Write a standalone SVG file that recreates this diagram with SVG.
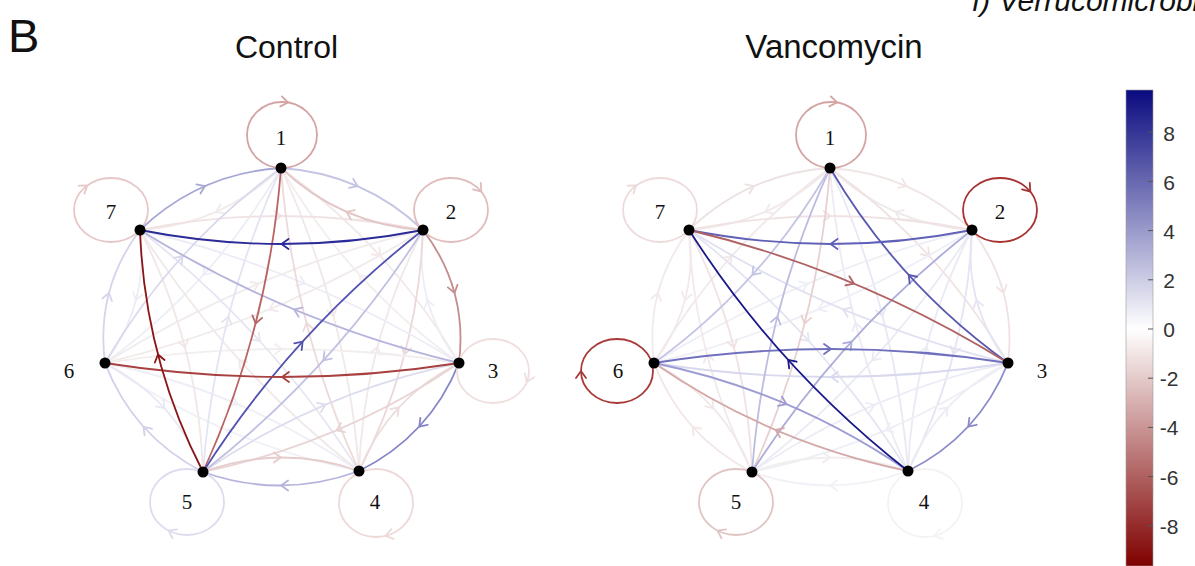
<svg xmlns="http://www.w3.org/2000/svg" xmlns:xlink="http://www.w3.org/1999/xlink" width="1195" height="566" viewBox="0 0 1195 566">
<style>
path{fill:none;stroke-width:1.8;stroke-linecap:round;stroke-linejoin:round}
.lp{fill:none;stroke-width:1.8}
.nd{fill:#000}
.lb{font-family:"Liberation Serif","Times New Roman",serif;font-size:21px;fill:#111;text-anchor:middle}
.tt{font-family:"Liberation Sans",Arial,sans-serif;fill:#111}
.tk{font-family:"Liberation Sans",Arial,sans-serif;font-size:21px;fill:#333;text-anchor:middle}
</style>
<defs>
<path id="ch" d="M-7,-5L0,0L-7,5"/>
<g id="P12"><path d="M0,0Q77.45,-28 154.9,0"/><use href="#ch" x="77.45" y="-14"/></g>
<g id="P13"><path d="M0,0Q132,-28 264,0"/><use href="#ch" x="132" y="-14"/></g>
<g id="P14"><path d="M0,0Q156.45,-28 312.9,0"/><use href="#ch" x="156.45" y="-14"/></g>
<g id="P15"><path d="M0,0Q156.9,-28 313.8,0"/><use href="#ch" x="156.9" y="-14"/></g>
<g id="P16"><path d="M0,0Q131.35,-28 262.7,0"/><use href="#ch" x="131.35" y="-14"/></g>
<g id="P17"><path d="M0,0Q77,-28 154,0"/><use href="#ch" x="77" y="-14"/></g>
<g id="P23"><path d="M0,0Q68.9,-28 137.8,0"/><use href="#ch" x="68.9" y="-14"/></g>
<g id="P24"><path d="M0,0Q124.7,-28 249.4,0"/><use href="#ch" x="124.7" y="-14"/></g>
<g id="P25"><path d="M0,0Q163.55,-28 327.1,0"/><use href="#ch" x="163.55" y="-14"/></g>
<g id="P26"><path d="M0,0Q172.35,-28 344.7,0"/><use href="#ch" x="172.35" y="-14"/></g>
<g id="P27"><path d="M0,0Q141.5,-28 283,0"/><use href="#ch" x="141.5" y="-14"/></g>
<g id="P34"><path d="M0,0Q73.6,-28 147.2,0"/><use href="#ch" x="73.6" y="-14"/></g>
<g id="P35"><path d="M0,0Q139.1,-28 278.2,0"/><use href="#ch" x="139.1" y="-14"/></g>
<g id="P36"><path d="M0,0Q177,-28 354,0"/><use href="#ch" x="177" y="-14"/></g>
<g id="P37"><path d="M0,0Q172.8,-28 345.6,0"/><use href="#ch" x="172.8" y="-14"/></g>
<g id="P45"><path d="M0,0Q78,-28 156,0"/><use href="#ch" x="78" y="-14"/></g>
<g id="P46"><path d="M0,0Q138,-28 276,0"/><use href="#ch" x="138" y="-14"/></g>
<g id="P47"><path d="M0,0Q162.8,-28 325.6,0"/><use href="#ch" x="162.8" y="-14"/></g>
<g id="P56"><path d="M0,0Q73.3,-28 146.6,0"/><use href="#ch" x="73.3" y="-14"/></g>
<g id="P57"><path d="M0,0Q125.05,-28 250.1,0"/><use href="#ch" x="125.05" y="-14"/></g>
<g id="P67"><path d="M0,0Q68.75,-28 137.5,0"/><use href="#ch" x="68.75" y="-14"/></g>
<linearGradient id="cb" x1="0" y1="0" x2="0" y2="1">
<stop offset="0" stop-color="#0a0a80"/>
<stop offset="0.502" stop-color="#ffffff"/>
<stop offset="1" stop-color="#7f0000"/>
</linearGradient>
</defs>
<rect width="1195" height="566" fill="#fff"/>
<text class="tt" x="8" y="52" font-size="47">B</text>
<text class="tt" x="972" y="11" font-size="30" font-style="italic">f) Verrucomicrobia</text>
<text class="tt" x="286.5" y="58" font-size="32" text-anchor="middle">Control</text>
<text class="tt" x="834" y="58" font-size="33" text-anchor="middle">Vancomycin</text>

<!-- Control network -->
<g id="control">
<g id="control-connectors">
<use href="#P13" transform="translate(281,168) rotate(47.61)" stroke="#f2e8e8"/>
<use href="#P13" transform="translate(459,363) rotate(227.61)" stroke="#f3eeee"/>
<use href="#P14" transform="translate(281,168) rotate(75.56)" stroke="#f1e8e8"/>
<use href="#P16" transform="translate(281,168) rotate(132.07)" stroke="#ededf6"/>
<use href="#P17" transform="translate(281,168) rotate(156.26)" stroke="#f2eaea"/>
<use href="#P23" transform="translate(459,363) rotate(254.85)" stroke="#ededf6"/>
<use href="#P24" transform="translate(423,230) rotate(104.87)" stroke="#ebd8d8"/>
<use href="#P24" transform="translate(359,471) rotate(284.87)" stroke="#f1e8e8"/>
<use href="#P26" transform="translate(423,230) rotate(157.31)" stroke="#f2eaea"/>
<use href="#P26" transform="translate(105,363) rotate(337.31)" stroke="#f1ebeb"/>
<use href="#P27" transform="translate(140,230) rotate(0)" stroke="#f0e2e2"/>
<use href="#P36" transform="translate(105,363) rotate(0)" stroke="#f3eeee"/>
<use href="#P37" transform="translate(140,230) rotate(22.63)" stroke="#ececf6"/>
<use href="#P46" transform="translate(359,471) rotate(-156.96)" stroke="#f0f0f7"/>
<use href="#P46" transform="translate(105,363) rotate(23.04)" stroke="#eeeef6"/>
<use href="#P47" transform="translate(359,471) rotate(-132.26)" stroke="#f1e9e9"/>
<use href="#P47" transform="translate(140,230) rotate(47.74)" stroke="#e6e6f3"/>
<use href="#P56" transform="translate(105,363) rotate(48.04)" stroke="#e8e8f4"/>
<use href="#P57" transform="translate(140,230) rotate(75.41)" stroke="#f1e7e7"/>
<use href="#P67" transform="translate(140,230) rotate(104.74)" stroke="#ececf5"/>
<use href="#P15" transform="translate(203,472) rotate(284.39)" stroke="#e4e4f2"/>
<use href="#P35" transform="translate(203,472) rotate(336.94)" stroke="#dcdcee"/>
<use href="#P14" transform="translate(359,471) rotate(255.56)" stroke="#ecdada"/>
<use href="#P34" transform="translate(359,471) rotate(312.8)" stroke="#eddcdc"/>
<use href="#P35" transform="translate(459,363) rotate(156.94)" stroke="#e8d4d4"/>
<use href="#P16" transform="translate(105,363) rotate(312.07)" stroke="#d8d8ee"/>
<use href="#P67" transform="translate(105,363) rotate(-75.26)" stroke="#d4d4ec"/>
<use href="#P56" transform="translate(203,472) rotate(-131.96)" stroke="#d0d0ea"/>
<use href="#P45" transform="translate(203,472) rotate(-0.37)" stroke="#e6cccc"/>
<use href="#P12" transform="translate(423,230) rotate(203.59)" stroke="#e2c6c6"/>
<use href="#P25" transform="translate(423,230) rotate(132.27)" stroke="#c0c0e2"/>
<use href="#P12" transform="translate(281,168) rotate(23.59)" stroke="#c4c4e4"/>
<use href="#P37" transform="translate(459,363) rotate(-157.37)" stroke="#b4b4dc"/>
<use href="#P17" transform="translate(140,230) rotate(336.26)" stroke="#a8a8d6"/>
<use href="#P23" transform="translate(423,230) rotate(74.85)" stroke="#c48c8c"/>
<use href="#P34" transform="translate(459,363) rotate(132.8)" stroke="#8484c8"/>
<use href="#P45" transform="translate(359,471) rotate(179.63)" stroke="#b4b4de"/>
<use href="#P15" transform="translate(281,168) rotate(104.39)" stroke="#b86464"/>
<use href="#P25" transform="translate(203,472) rotate(312.27)" stroke="#5252b0"/>
<use href="#P36" transform="translate(459,363) rotate(180)" stroke="#a84040"/>
<use href="#P27" transform="translate(423,230) rotate(180)" stroke="#2a2a98"/>
<use href="#P57" transform="translate(203,472) rotate(-104.59)" stroke="#8b1414"/>
<g stroke="#d4a4a4"><ellipse class="lp" cx="282" cy="135" rx="35" ry="33"/><use href="#ch" transform="translate(288,102.5) rotate(9)"/></g>
<g stroke="#e6c8c8"><ellipse class="lp" cx="111" cy="210" rx="37" ry="32"/><use href="#ch" transform="translate(87.2,185.5) rotate(-36)"/></g>
<g stroke="#e0bcbc"><ellipse class="lp" cx="451" cy="210" rx="37" ry="32"/><use href="#ch" transform="translate(481.3,191.6) rotate(51)"/></g>
<g stroke="#f0dede"><ellipse class="lp" cx="493" cy="371" rx="36" ry="32"/><use href="#ch" transform="translate(526.8,381.9) rotate(112)"/></g>
<g stroke="#eed8d8"><ellipse class="lp" cx="376" cy="503" rx="37" ry="34"/><use href="#ch" transform="translate(385.6,535.8) rotate(166)"/></g>
<g stroke="#dcdcee"><ellipse class="lp" cx="187" cy="502" rx="37" ry="33"/><use href="#ch" transform="translate(168.5,530.6) rotate(207)"/></g>
</g>
<g id="control-n1"><circle class="nd" cx="281" cy="168" r="5.5"/><text class="lb" x="281" y="145">1</text></g>
<g id="control-n2"><circle class="nd" cx="423" cy="230" r="5.5"/><text class="lb" x="451" y="219">2</text></g>
<g id="control-n3"><circle class="nd" cx="459" cy="363" r="5.5"/><text class="lb" x="493" y="378">3</text></g>
<g id="control-n4"><circle class="nd" cx="359" cy="471" r="5.5"/><text class="lb" x="375" y="509">4</text></g>
<g id="control-n5"><circle class="nd" cx="203" cy="472" r="5.5"/><text class="lb" x="187" y="509">5</text></g>
<g id="control-n6"><circle class="nd" cx="105" cy="363" r="5.5"/><text class="lb" x="69" y="378">6</text></g>
<g id="control-n7"><circle class="nd" cx="140" cy="230" r="5.5"/><text class="lb" x="111" y="219">7</text></g>
</g>

<!-- Vancomycin network -->
<g id="vancomycin" transform="translate(549,0)">
<g id="vancomycin-connectors">
<use href="#P12" transform="translate(281,168) rotate(23.59)" stroke="#f1e6e6"/>
<use href="#P12" transform="translate(423,230) rotate(203.59)" stroke="#efeaea"/>
<use href="#P13" transform="translate(281,168) rotate(47.61)" stroke="#f0e2e2"/>
<use href="#P14" transform="translate(281,168) rotate(75.56)" stroke="#e8e8f4"/>
<use href="#P14" transform="translate(359,471) rotate(255.56)" stroke="#eeeaf4"/>
<use href="#P16" transform="translate(105,363) rotate(312.07)" stroke="#f1e8e8"/>
<use href="#P17" transform="translate(281,168) rotate(156.26)" stroke="#f2eaea"/>
<use href="#P17" transform="translate(140,230) rotate(336.26)" stroke="#ece2e2"/>
<use href="#P23" transform="translate(423,230) rotate(74.85)" stroke="#f0e2e2"/>
<use href="#P23" transform="translate(459,363) rotate(254.85)" stroke="#e4e4f2"/>
<use href="#P24" transform="translate(423,230) rotate(104.87)" stroke="#e4e4f2"/>
<use href="#P24" transform="translate(359,471) rotate(284.87)" stroke="#eaeaf4"/>
<use href="#P25" transform="translate(423,230) rotate(132.27)" stroke="#eaeaf4"/>
<use href="#P26" transform="translate(423,230) rotate(157.31)" stroke="#eeeef6"/>
<use href="#P26" transform="translate(105,363) rotate(337.31)" stroke="#eeeef6"/>
<use href="#P27" transform="translate(140,230) rotate(0)" stroke="#f0e2e2"/>
<use href="#P34" transform="translate(359,471) rotate(312.8)" stroke="#ececf4"/>
<use href="#P35" transform="translate(459,363) rotate(156.94)" stroke="#eeeef6"/>
<use href="#P35" transform="translate(203,472) rotate(336.94)" stroke="#ececf6"/>
<use href="#P37" transform="translate(459,363) rotate(-157.37)" stroke="#e0e0f0"/>
<use href="#P45" transform="translate(359,471) rotate(179.63)" stroke="#f0f0f6"/>
<use href="#P45" transform="translate(203,472) rotate(-0.37)" stroke="#f2eeee"/>
<use href="#P47" transform="translate(140,230) rotate(47.74)" stroke="#e4e4f2"/>
<use href="#P56" transform="translate(203,472) rotate(-131.96)" stroke="#f2e6e6"/>
<use href="#P56" transform="translate(105,363) rotate(48.04)" stroke="#f0e8e8"/>
<use href="#P57" transform="translate(203,472) rotate(-104.59)" stroke="#f2eaea"/>
<use href="#P57" transform="translate(140,230) rotate(75.41)" stroke="#f0e2e2"/>
<use href="#P67" transform="translate(105,363) rotate(-75.26)" stroke="#f2eaea"/>
<use href="#P67" transform="translate(140,230) rotate(104.74)" stroke="#f2eaea"/>
<use href="#P15" transform="translate(281,168) rotate(104.39)" stroke="#e8d0d0"/>
<use href="#P36" transform="translate(459,363) rotate(180)" stroke="#d8d8ee"/>
<use href="#P15" transform="translate(203,472) rotate(284.39)" stroke="#bcbce0"/>
<use href="#P25" transform="translate(203,472) rotate(312.27)" stroke="#acacda"/>
<use href="#P16" transform="translate(281,168) rotate(132.07)" stroke="#c4c4e4"/>
<use href="#P46" transform="translate(359,471) rotate(-156.96)" stroke="#d4a8a8"/>
<use href="#P34" transform="translate(459,363) rotate(132.8)" stroke="#8a8acb"/>
<use href="#P46" transform="translate(105,363) rotate(23.04)" stroke="#9c9cd2"/>
<use href="#P36" transform="translate(105,363) rotate(0)" stroke="#7070be"/>
<use href="#P13" transform="translate(459,363) rotate(227.61)" stroke="#5858b0"/>
<use href="#P27" transform="translate(423,230) rotate(180)" stroke="#6060b8"/>
<use href="#P37" transform="translate(140,230) rotate(22.63)" stroke="#b06262"/>
<use href="#P47" transform="translate(359,471) rotate(-132.26)" stroke="#18188a"/>
<g stroke="#d4a4a4"><ellipse class="lp" cx="282" cy="135" rx="35" ry="33"/><use href="#ch" transform="translate(288,102.5) rotate(9)"/></g>
<g stroke="#eedada"><ellipse class="lp" cx="111" cy="210" rx="37" ry="32"/><use href="#ch" transform="translate(87.2,185.5) rotate(-36)"/></g>
<g stroke="#a83232"><ellipse class="lp" cx="451" cy="210" rx="37" ry="32"/><use href="#ch" transform="translate(481.3,191.6) rotate(51)"/></g>
<g stroke="#a83a3a"><ellipse class="lp" cx="68" cy="371" rx="36" ry="32"/><use href="#ch" transform="translate(32,371) rotate(-90)"/></g>
<g stroke="#f6f2f2"><ellipse class="lp" cx="376" cy="503" rx="37" ry="34"/><use href="#ch" transform="translate(385.6,535.8) rotate(166)"/></g>
<g stroke="#e0c4c4"><ellipse class="lp" cx="187" cy="502" rx="37" ry="33"/><use href="#ch" transform="translate(168.5,530.6) rotate(207)"/></g>
</g>
<g id="vancomycin-n1"><circle class="nd" cx="281" cy="168" r="5.5"/><text class="lb" x="281" y="145">1</text></g>
<g id="vancomycin-n2"><circle class="nd" cx="423" cy="230" r="5.5"/><text class="lb" x="451" y="219">2</text></g>
<g id="vancomycin-n3"><circle class="nd" cx="459" cy="363" r="5.5"/><text class="lb" x="493" y="378">3</text></g>
<g id="vancomycin-n4"><circle class="nd" cx="359" cy="471" r="5.5"/><text class="lb" x="375" y="509">4</text></g>
<g id="vancomycin-n5"><circle class="nd" cx="203" cy="472" r="5.5"/><text class="lb" x="187" y="509">5</text></g>
<g id="vancomycin-n6"><circle class="nd" cx="105" cy="363" r="5.5"/><text class="lb" x="69" y="378">6</text></g>
<g id="vancomycin-n7"><circle class="nd" cx="140" cy="230" r="5.5"/><text class="lb" x="111" y="219">7</text></g>
</g>

<!-- Colour bar -->
<g id="colorbar">
<rect x="1126" y="90" width="27" height="476" fill="url(#cb)" stroke="#999" stroke-width="0.6"/>
<g stroke="#555" stroke-width="1">
<line x1="1148" y1="132.2" x2="1153" y2="132.2"/>
<line x1="1148" y1="181.4" x2="1153" y2="181.4"/>
<line x1="1148" y1="230.6" x2="1153" y2="230.6"/>
<line x1="1148" y1="279.8" x2="1153" y2="279.8"/>
<line x1="1148" y1="329" x2="1153" y2="329"/>
<line x1="1148" y1="378.2" x2="1153" y2="378.2"/>
<line x1="1148" y1="427.4" x2="1153" y2="427.4"/>
<line x1="1148" y1="476.6" x2="1153" y2="476.6"/>
<line x1="1148" y1="525.8" x2="1153" y2="525.8"/>
</g>
<text class="tk" x="1169" y="141">8</text>
<text class="tk" x="1169" y="190">6</text>
<text class="tk" x="1169" y="239">4</text>
<text class="tk" x="1169" y="288">2</text>
<text class="tk" x="1169" y="337">0</text>
<text class="tk" x="1169" y="386">-2</text>
<text class="tk" x="1169" y="435">-4</text>
<text class="tk" x="1169" y="485">-6</text>
<text class="tk" x="1169" y="534">-8</text>
</g>
</svg>
